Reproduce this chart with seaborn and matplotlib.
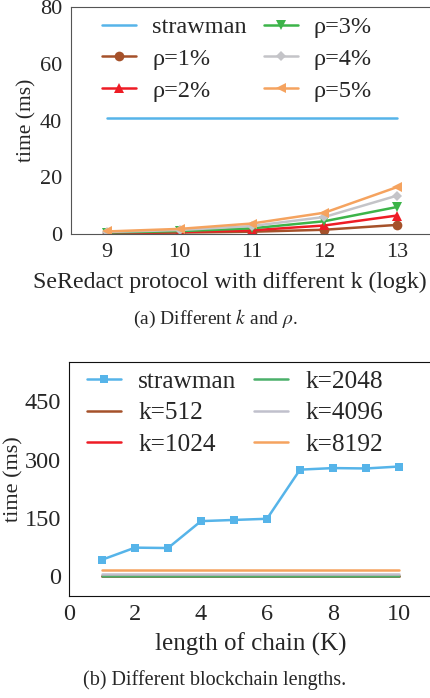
import numpy as np
import pandas as pd
import matplotlib
matplotlib.use('Agg')
import matplotlib.pyplot as plt
import seaborn as sns

sns.set_style('white')
plt.rcParams['font.family'] = ['Liberation Serif', 'DejaVu Serif']
plt.rcParams['mathtext.fontset'] = 'stix'

# (a) different k and rho
logk = [9, 10, 11, 12, 13]
strawman_a = [41, 41, 41, 41, 41]
rho1 = [0.3, 0.5, 0.8, 1.5, 3.2]
rho2 = [0.4, 0.7, 1.3, 3.0, 6.5]
rho3 = [0.5, 1.0, 2.0, 4.5, 9.5]
rho4 = [0.7, 1.4, 2.8, 6.0, 13.5]
rho5 = [0.9, 1.8, 3.7, 7.5, 16.5]

# (b) different blockchain lengths
chain_len = [1, 2, 3, 4, 5, 6, 7, 8, 9, 10]
strawman_b = [43, 74, 73, 142, 145, 148, 274, 278, 277, 282]
k512 = [0.5] * 10
k1024 = [1.0] * 10
k2048 = [2.5] * 10
k4096 = [6.0] * 10
k8192 = [16.0] * 10

c_straw = '#56b4e9'
c1 = '#a5512a'
c2 = '#ee1c25'
c3 = '#3cb449'
c4 = '#c4c4c8'
c5 = '#f5a35f'

fig = plt.figure(figsize=(4.3, 6.98), dpi=100)

# ---- top panel
ax1 = fig.add_axes([71/430, 464/698, 362/430, 227/698])
series_a = [('strawman', strawman_a, c_straw, None),
            ('ρ=1%', rho1, c1, 'o'),
            ('ρ=2%', rho2, c2, '^'),
            ('ρ=3%', rho3, c3, 'v'),
            ('ρ=4%', rho4, c4, 'D'),
            ('ρ=5%', rho5, c5, '<')]
for name, vals, col, mk in series_a:
    df = pd.DataFrame({'x': logk, 'y': vals})
    sns.lineplot(data=df, x='x', y='y', ax=ax1, color=col, marker=mk,
                 markersize=7 if mk != 'D' else 5.5, markeredgewidth=0,
                 linewidth=1.8, label=name)
ax1.set_xlim(8.5, 13.5)
ax1.set_ylim(0, 80)
ax1.set_xticks(logk)
ax1.set_yticks([0, 20, 40, 60, 80])
ax1.tick_params(labelsize=16, pad=3)
ax1.set_xlabel('SeRedact protocol with different k (logk)', fontsize=17.2, labelpad=7)
ax1.xaxis.label.set_x(0.44)
ax1.set_ylabel('time (ms)', fontsize=15.5, labelpad=2)
for s in ax1.spines.values():
    s.set_color('#555555')
ax1.legend(ncol=2, loc='upper left', bbox_to_anchor=(0.086, 0.96), frameon=False,
           fontsize=17.5, handlelength=1.4, labelspacing=0.4,
           columnspacing=0.7, handletextpad=0.66, borderaxespad=0, borderpad=0)

fig.text(0.5, 379/698, '(a) Different $k$ and $\\rho$.', ha='center', va='center', fontsize=14)

# ---- bottom panel
ax2 = fig.add_axes([69/430, 102/698, 363/430, 234/698])
series_b = [('strawman', strawman_b, c_straw, 's'),
            ('k=512', k512, c1, None),
            ('k=1024', k1024, c2, None),
            ('k=2048', k2048, '#4bb06a', None),
            ('k=4096', k4096, '#c0c0cc', None),
            ('k=8192', k8192, c5, None)]
for name, vals, col, mk in series_b:
    df = pd.DataFrame({'x': chain_len, 'y': vals})
    sns.lineplot(data=df, x='x', y='y', ax=ax2, color=col, marker=mk,
                 markersize=6, markeredgewidth=0, linewidth=1.8, label=name)
ax2.set_xlim(0, 11)
ax2.set_ylim(-50, 550)
ax2.set_xticks([0, 2, 4, 6, 8, 10])
ax2.set_yticks([0, 150, 300, 450])
ax2.tick_params(labelsize=17.5, pad=2)
ax2.set_xlabel('length of chain (K)', fontsize=18, labelpad=6)
ax2.set_ylabel('time (ms)', fontsize=16, labelpad=1)
for s in ax2.spines.values():
    s.set_color('#111111')
ax2.legend(ncol=2, loc='upper left', bbox_to_anchor=(0.05, 0.966), frameon=False,
           fontsize=18.3, handlelength=1.34, labelspacing=0.35,
           columnspacing=0.7, handletextpad=0.67, borderaxespad=0, borderpad=0)

fig.text(0.5, 18/698, '(b) Different blockchain lengths.', ha='center', va='center', fontsize=14.5)

fig.savefig('out.png', dpi=100)
